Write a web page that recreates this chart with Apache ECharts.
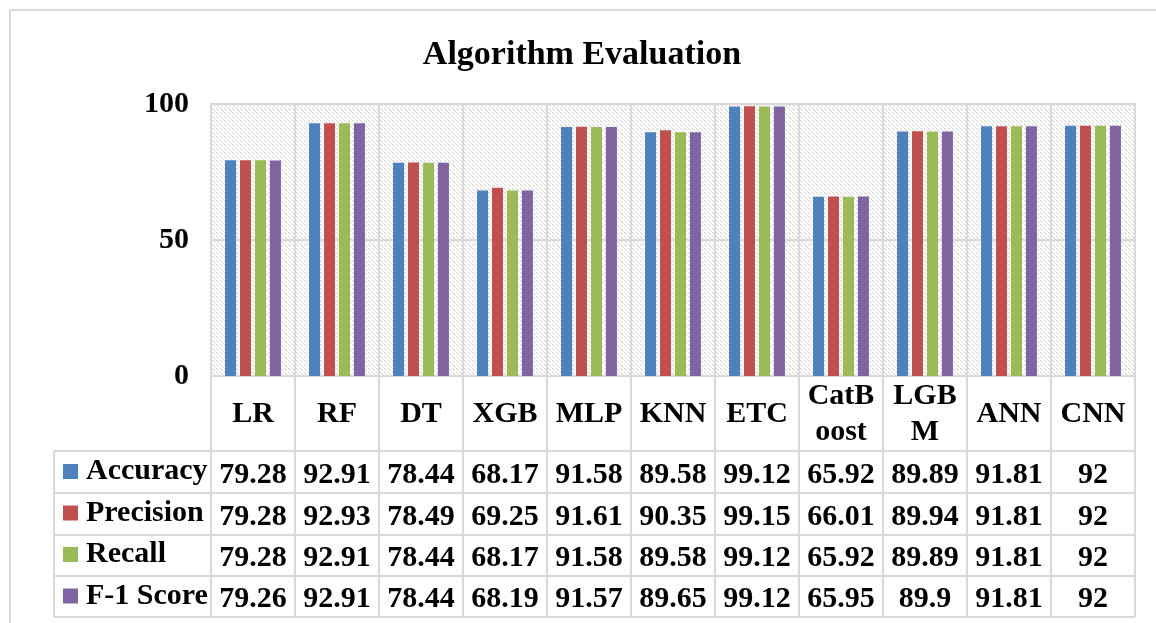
<!DOCTYPE html>
<html><head><meta charset="utf-8">
<script src="https://cdn.jsdelivr.net/npm/echarts@6/dist/echarts.min.js"></script>
<style>html,body{margin:0;padding:0;background:#fff}#c{width:1156px;height:623px}</style>
</head><body><div id="c"></div>
<script>
const chartTitle = 'Algorithm Evaluation';
const categories = ['LR','RF','DT','XGB','MLP','KNN','ETC','CatB\noost','LGB\nM','ANN','CNN'];
const seriesNames = ['Accuracy','Precision','Recall','F-1 Score'];
const accuracy  = [79.28,92.91,78.44,68.17,91.58,89.58,99.12,65.92,89.89,91.81,92];
const precision = [79.28,92.93,78.49,69.25,91.61,90.35,99.15,66.01,89.94,91.81,92];
const recall    = [79.28,92.91,78.44,68.17,91.58,89.58,99.12,65.92,89.89,91.81,92];
const f1score   = [79.26,92.91,78.44,68.19,91.57,89.65,99.12,65.95,89.9,91.81,92];
const yMin = 0, yMax = 100, yStep = 50;

const seriesData = [accuracy, precision, recall, f1score];
const colors = ['#4F81BD','#C0504D','#9BBB59','#8064A2'];
const FONT = '"Liberation Serif", "Times New Roman", serif';
const LINE = '#d9d9d9';

// hatch pattern for plot background
function makePattern(){
  const c = document.createElement('canvas');
  c.width = 8; c.height = 8;
  const g = c.getContext('2d');
  g.fillStyle = '#ffffff'; g.fillRect(0,0,8,8);
  g.fillStyle = '#cfcfcf';
  const pts = [[0,0],[1,1],[2,2],[4,4],[5,5],[6,6],[4,0],[5,1],[0,4],[1,5]];
  pts.forEach(p => g.fillRect(p[0],p[1],1,1));
  g.fillStyle = '#e4e4e4';
  [[3,3],[7,7],[6,2],[2,6]].forEach(p => g.fillRect(p[0],p[1],1,1));
  return c;
}

const chart = echarts.init(document.getElementById('c'), null, {renderer:'canvas'});
const gridBox = {left: 211, right: 21, top: 104, bottom: 247};

chart.setOption({
  animation: false,
  backgroundColor: '#fff',
  title: {
    text: chartTitle, left: 582, top: 38, textAlign: 'center', padding: 0,
    textStyle: {fontFamily: FONT, fontSize: 34, fontWeight: 'bold', color: '#000', lineHeight: 34}
  },
  color: colors,
  legend: {
    orient: 'vertical', left: 63, top: 454.5, padding: 0,
    itemWidth: 15, itemHeight: 15, itemGap: 7.5, icon: 'rect',
    selectedMode: false,
    data: seriesNames,
    textStyle: {fontFamily: FONT, fontSize: 30, fontWeight: 'bold', color: '#000', lineHeight: 30, padding: [4,0,0,3]}
  },
  grid: Object.assign({show: true, backgroundColor: {image: makePattern(), repeat: 'repeat'},
    borderColor: LINE, borderWidth: 2}, gridBox),
  xAxis: {
    type: 'category', data: categories,
    axisLine: {show: true, lineStyle: {color: LINE, width: 2}},
    axisTick: {show: false},
    splitLine: {show: true, interval: 0, lineStyle: {color: LINE, width: 2}},
    axisLabel: {interval: 0, margin: 38, verticalAlign: 'middle', fontFamily: FONT, fontSize: 30,
      fontWeight: 'bold', color: '#000', lineHeight: 36}
  },
  yAxis: {
    type: 'value', min: yMin, max: yMax, interval: yStep,
    axisLine: {show: false}, axisTick: {show: false},
    splitLine: {show: true, lineStyle: {color: LINE, width: 2}},
    axisLabel: {margin: 22, fontFamily: FONT, fontSize: 30, fontWeight: 'bold', color: '#000', padding: [4,0,0,0]}
  },
  series: seriesNames.map((n, i) => ({
    name: n, type: 'bar', data: seriesData[i], barWidth: 11, barGap: '36%',
    itemStyle: {color: colors[i]}
  }))
});

// data table drawn beneath the axis, positioned from the axis scale
function buildTable(){
  const x0 = chart.convertToPixel({xAxisIndex: 0}, 0);
  const x1 = chart.convertToPixel({xAxisIndex: 0}, 1);
  const band = x1 - x0;
  const yAxisPix = chart.convertToPixel({yAxisIndex: 0}, yMin);
  const leftEdge = x0 - band / 2;
  const rightEdge = leftEdge + band * categories.length;
  const headerH = 75;
  const rowHs = [42, 42, 41, 41];
  const tableLeft = 54;
  const els = [];
  // outer frame
  els.push({type: 'rect', shape: {x: 10, y: 10, width: 1300, height: 800},
    style: {fill: 'none', stroke: LINE, lineWidth: 2}, z: -10, silent: true});
  const headerBottom = yAxisPix + headerH;
  let rowTops = [headerBottom];
  rowHs.forEach(h => rowTops.push(rowTops[rowTops.length - 1] + h));
  const tableBottom = rowTops[rowTops.length - 1];
  // vertical lines
  for (let k = 0; k <= categories.length; k++) {
    const x = leftEdge + band * k;
    els.push({type: 'line', shape: {x1: x, y1: yAxisPix, x2: x, y2: tableBottom},
      style: {stroke: LINE, lineWidth: 2}, silent: true});
  }
  els.push({type: 'line', shape: {x1: tableLeft, y1: headerBottom, x2: tableLeft, y2: tableBottom},
    style: {stroke: LINE, lineWidth: 2}, silent: true});
  // horizontal lines
  rowTops.forEach(y => els.push({type: 'line', shape: {x1: tableLeft, y1: y, x2: rightEdge, y2: y},
    style: {stroke: LINE, lineWidth: 2}, silent: true}));
  // values
  seriesData.forEach((arr, r) => {
    const cy = rowTops[r] + rowHs[r] / 2 + 3;
    arr.forEach((v, i) => {
      els.push({type: 'text', x: chart.convertToPixel({xAxisIndex: 0}, i), y: cy, silent: true,
        style: {text: String(v), align: 'center', verticalAlign: 'middle', fontFamily: FONT,
          fontSize: 30, fontWeight: 'bold', fill: '#000'}});
    });
  });
  chart.setOption({graphic: els});
}
buildTable();
</script></body></html>
